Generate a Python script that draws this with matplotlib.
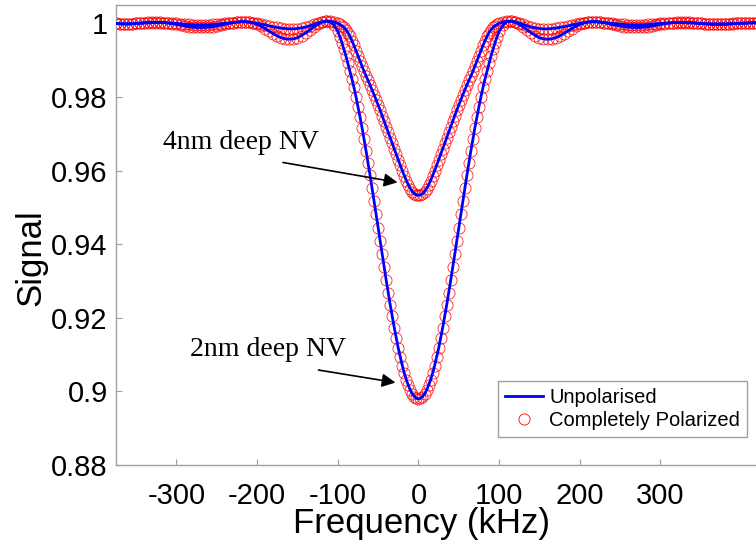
import numpy as np
import matplotlib
matplotlib.use("Agg")
import matplotlib.pyplot as plt
from matplotlib.lines import Line2D

plt.rcParams['font.family'] = ['Liberation Sans', 'DejaVu Sans']
plt.rcParams['axes.unicode_minus'] = False

# -------------------------------
# Data
# -------------------------------
# frequency grid in kHz: 5 kHz in the wings, 2.5 kHz across the dip
freq = np.concatenate([np.arange(-375, -100, 5),
                       np.arange(-100, 100.1, 2.5),
                       np.arange(105, 421, 5)])

# 2nm deep NV
deep_left = [1.0000, 0.9999, 0.9998, 0.9998, 0.9999, 1.0000, 1.0001, 1.0002, 1.0003, 1.0003,
             1.0003, 1.0003, 1.0002, 1.0001, 0.9999, 0.9997, 0.9995, 0.9993, 0.9991, 0.9990,
             0.9989, 0.9989, 0.9989, 0.9990, 0.9991, 0.9993, 0.9995, 0.9997, 1.0000, 1.0002,
             1.0004, 1.0005, 1.0005, 1.0004, 1.0001, 0.9997, 0.9992, 0.9986, 0.9979, 0.9972,
             0.9966, 0.9961, 0.9958, 0.9957, 0.9958, 0.9961, 0.9967, 0.9974, 0.9982, 0.9990,
             0.9997, 1.0003, 1.0006, 1.0005, 0.9996]
deep_center = [0.9978, 0.9964, 0.9948, 0.9930, 0.9912, 0.9891, 0.9870, 0.9849, 0.9826, 0.9801,
               0.9774, 0.9746, 0.9717, 0.9686, 0.9654, 0.9621, 0.9587, 0.9552, 0.9516, 0.9481,
               0.9445, 0.9409, 0.9373, 0.9337, 0.9302, 0.9268, 0.9235, 0.9204, 0.9173, 0.9145,
               0.9117, 0.9093, 0.9070, 0.9049, 0.9031, 0.9016, 0.9003, 0.8993, 0.8986, 0.8981,
               0.8980,
               0.8981, 0.8986, 0.8993, 0.9003, 0.9016, 0.9031, 0.9049, 0.9070, 0.9093, 0.9117,
               0.9145, 0.9173, 0.9204, 0.9235, 0.9268, 0.9302, 0.9337, 0.9373, 0.9409, 0.9445,
               0.9481, 0.9516, 0.9552, 0.9587, 0.9621, 0.9654, 0.9686, 0.9717, 0.9746, 0.9774,
               0.9801, 0.9826, 0.9849, 0.9870, 0.9891, 0.9912, 0.9930, 0.9948, 0.9964, 0.9978]
deep_right = [0.9996, 1.0005, 1.0006, 1.0003, 0.9997, 0.9990, 0.9982, 0.9974, 0.9967, 0.9961,
              0.9958, 0.9957, 0.9958, 0.9961, 0.9966, 0.9972, 0.9979, 0.9986, 0.9992, 0.9997,
              1.0001, 1.0004, 1.0005, 1.0005, 1.0004, 1.0002, 1.0000, 0.9997, 0.9995, 0.9993,
              0.9991, 0.9990, 0.9989, 0.9989, 0.9989, 0.9990, 0.9991, 0.9993, 0.9995, 0.9997,
              0.9999, 1.0001, 1.0002, 1.0003, 1.0003, 1.0003, 1.0003, 1.0002, 1.0001, 1.0000,
              0.9999, 0.9998, 0.9997, 0.9997, 0.9997, 0.9997, 0.9998, 0.9999, 1.0000, 1.0001,
              1.0001, 1.0002, 1.0002, 1.0002]

# 4nm deep NV
shallow_left = [1.0000, 0.9999, 0.9999, 0.9999, 0.9999, 1.0000, 1.0000, 1.0001, 1.0001, 1.0002,
                1.0002, 1.0002, 1.0002, 1.0001, 1.0001, 1.0000, 0.9999, 0.9998, 0.9997, 0.9996,
                0.9996, 0.9996, 0.9996, 0.9996, 0.9997, 0.9998, 0.9999, 1.0000, 1.0001, 1.0002,
                1.0003, 1.0004, 1.0004, 1.0003, 1.0002, 1.0000, 0.9998, 0.9996, 0.9993, 0.9991,
                0.9989, 0.9987, 0.9986, 0.9985, 0.9985, 0.9986, 0.9988, 0.9990, 0.9993, 0.9997,
                1.0001, 1.0004, 1.0006, 1.0006, 1.0004]
shallow_center = [1.0000, 0.9997, 0.9994, 0.9989, 0.9983, 0.9975, 0.9965, 0.9953, 0.9940, 0.9926,
                  0.9912, 0.9898, 0.9884, 0.9870, 0.9857, 0.9845, 0.9832, 0.9819, 0.9806, 0.9792,
                  0.9778, 0.9764, 0.9749, 0.9734, 0.9719, 0.9704, 0.9689, 0.9674, 0.9659, 0.9644,
                  0.9629, 0.9614, 0.9600, 0.9586, 0.9573, 0.9561, 0.9551, 0.9543, 0.9537, 0.9534,
                  0.9533,
                  0.9534, 0.9537, 0.9543, 0.9551, 0.9561, 0.9573, 0.9586, 0.9600, 0.9614, 0.9629,
                  0.9644, 0.9659, 0.9674, 0.9689, 0.9704, 0.9719, 0.9734, 0.9749, 0.9764, 0.9778,
                  0.9792, 0.9806, 0.9819, 0.9832, 0.9845, 0.9857, 0.9870, 0.9884, 0.9898, 0.9912,
                  0.9926, 0.9940, 0.9953, 0.9965, 0.9975, 0.9983, 0.9989, 0.9994, 0.9997, 1.0000]
shallow_right = [1.0004, 1.0006, 1.0006, 1.0004, 1.0001, 0.9997, 0.9993, 0.9990, 0.9988, 0.9986,
                 0.9985, 0.9985, 0.9986, 0.9987, 0.9989, 0.9991, 0.9993, 0.9996, 0.9998, 1.0000,
                 1.0002, 1.0003, 1.0004, 1.0004, 1.0003, 1.0002, 1.0001, 1.0000, 0.9999, 0.9998,
                 0.9997, 0.9996, 0.9996, 0.9996, 0.9996, 0.9996, 0.9997, 0.9998, 0.9999, 1.0000,
                 1.0001, 1.0001, 1.0002, 1.0002, 1.0002, 1.0002, 1.0001, 1.0001, 1.0000, 1.0000,
                 0.9999, 0.9999, 0.9999, 0.9999, 0.9999, 0.9999, 0.9999, 1.0000, 1.0000, 1.0000,
                 1.0000, 1.0001, 1.0001, 1.0001]

signal_2nm = np.array(deep_left + deep_center + deep_right)
signal_4nm = np.array(shallow_left + shallow_center + shallow_right)

xticks = [-300, -200, -100, 0, 100, 200, 300]
yticks = [0.88, 0.9, 0.92, 0.94, 0.96, 0.98, 1.0]
ytick_labels = ['0.88', '0.9', '0.92', '0.94', '0.96', '0.98', '1']

# -------------------------------
# Figure
# -------------------------------
fig = plt.figure(figsize=(7.56, 5.42), dpi=100)
ax = fig.add_axes([0.1534, 0.1421, 0.8536, 0.8487])

for sig in (signal_2nm, signal_4nm):
    ax.plot(freq, sig, 'o', mfc='none', mec='red', ms=8, mew=0.6, alpha=0.85, zorder=2)
for sig in (signal_2nm, signal_4nm):
    ax.plot(freq, sig, '-', color='blue', lw=2, zorder=3)

ax.set_xlim(-375, 425)
ax.set_ylim(0.88, 1.005)
ax.set_xticks(xticks)
ax.set_yticks(yticks)
ax.set_yticklabels(ytick_labels)
ax.tick_params(direction='in', length=4.5, width=0.8, color='#a0a0a0',
               labelsize=21, pad=6)
ax.tick_params(axis='x', pad=12)
for side in ['left', 'bottom', 'top', 'right']:
    ax.spines[side].set_color('#a0a0a0')
    ax.spines[side].set_linewidth(1.0)

ax.set_xlabel('Frequency (kHz)', fontsize=25)
ax.set_ylabel('Signal', fontsize=25)
ax.xaxis.set_label_coords(0.473, -0.092)
ax.yaxis.set_label_coords(-0.106, 0.45)

# annotations
serif = ['Liberation Serif', 'DejaVu Serif']
ax.text(-220, 0.9677, '4nm deep NV', fontsize=20, family=serif, ha='center', va='center')
ax.annotate('', xy=(-26, 0.9568), xytext=(-168, 0.9622),
            arrowprops=dict(arrowstyle='-|>', color='black', lw=1.2,
                            mutation_scale=20, shrinkA=0, shrinkB=0))
ax.text(-186, 0.9114, '2nm deep NV', fontsize=20, family=serif, ha='center', va='center')
ax.annotate('', xy=(-28.5, 0.9024), xytext=(-124, 0.9058),
            arrowprops=dict(arrowstyle='-|>', color='black', lw=1.2,
                            mutation_scale=20, shrinkA=0, shrinkB=0))

handles = [Line2D([], [], color='blue', lw=2),
           Line2D([], [], ls='none', marker='o', mfc='none', mec='red', ms=8, mew=0.6)]
leg = ax.legend(handles, ['Unpolarised', 'Completely Polarized'],
                loc='lower right', bbox_to_anchor=(747 / 756, 105 / 542),
                bbox_transform=fig.transFigure, fontsize=14.5, fancybox=False,
                framealpha=1, edgecolor='#a0a0a0', borderaxespad=0,
                handlelength=1.9, handletextpad=0.3, borderpad=0.35, labelspacing=0.2)
leg.get_frame().set_linewidth(1.0)

fig.savefig('out.png', dpi=100)
